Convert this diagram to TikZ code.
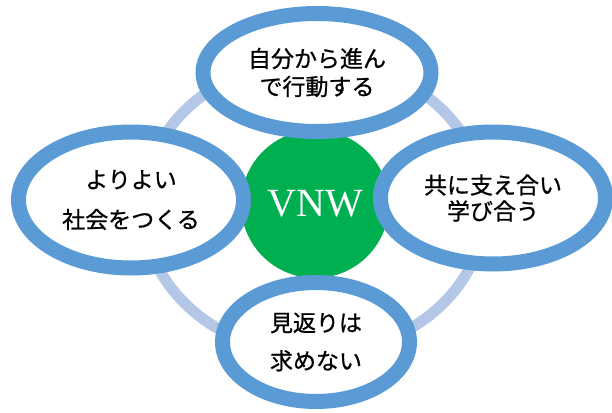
\documentclass[tikz,border=0pt]{standalone}
\usepackage{fontspec}
\newfontfamily\jpfont[FakeBold=0.8]{Noto Sans CJK JP}
\newfontfamily\vnwfont{Liberation Serif}
\usetikzlibrary{shapes.geometric}
\definecolor{ringblue}{HTML}{5B9BD5}
\definecolor{lightring}{HTML}{B4C7E7}
\definecolor{vnwgreen}{HTML}{00B050}
\tikzset{
  bubble/.style={ellipse, draw=ringblue, line width=15pt, fill=white, inner sep=0pt, align=center, text=black},
}
\begin{document}
\begin{tikzpicture}[x=1pt,y=-1pt]
  \useasboundingbox (0,0) rectangle (612,412);
  \clip (0,0) rectangle (612,412);
  % light outer ring
  \node[ellipse, draw=lightring, line width=11pt, minimum width=342pt, minimum height=294pt, inner sep=0pt] (ring) at (314,207) {};
  % green centre
  \node[circle, fill=vnwgreen, minimum size=148pt, inner sep=0pt, text=white, font=\vnwfont\fontsize{40}{40}\selectfont] (vnw) at (315,204) {VNW};
  % four bubbles
  \node[bubble, minimum width=228pt, minimum height=118pt, font=\jpfont\fontsize{23}{28}\selectfont] (top) at (317,72.5) {自分から進ん\\で行動する};
  \node[bubble, minimum width=225pt, minimum height=136pt, font=\jpfont\fontsize{23}{40}\selectfont] (left) at (131,200) {よりよい\\社会をつくる};
  \node[bubble, minimum width=225pt, minimum height=132pt, font=\jpfont\fontsize{23}{26}\selectfont] (right) at (493,198) {共に支え合い\\学び合う};
  \node[bubble, minimum width=187pt, minimum height=119pt, font=\jpfont\fontsize{23}{38}\selectfont] (bottom) at (316,342) {見返りは\\求めない};
\end{tikzpicture}
\end{document}
